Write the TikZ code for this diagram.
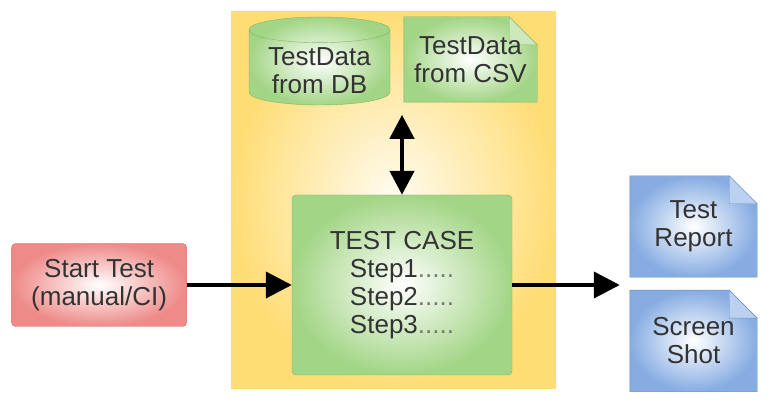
\documentclass[tikz,border=0pt]{standalone}
\usepackage{fontspec}
\setmainfont{Liberation Sans}
\usepackage{xcolor}
\usetikzlibrary{arrows.meta,shapes.geometric,positioning,backgrounds}

\definecolor{greenfill}{HTML}{A3D586}
\definecolor{greenline}{HTML}{82B366}
\definecolor{redfill}{HTML}{EE8A88}
\definecolor{redline}{HTML}{D26A67}
\definecolor{bluefill}{HTML}{86ACE2}
\definecolor{blueline}{HTML}{6C8EBF}
\definecolor{panelfill}{HTML}{FFD966}
\definecolor{textgray}{HTML}{333333}
\definecolor{dotgray}{HTML}{777777}

\begin{document}
\begin{tikzpicture}[
    x=1pt, y=1pt,
    font=\fontsize{26}{28}\selectfont, text=textgray,
    panel/.style={rectangle, inner color=panelfill!8, outer color=panelfill!90!white, minimum width=325pt, minimum height=377pt},
    block/.style={rectangle, draw=greenline, inner color=white, outer color=greenfill,
                  rounded corners=4pt, align=center, inner sep=0pt},
    startblock/.style={block, draw=redline, outer color=redfill},
    dbblock/.style={cylinder, shape border rotate=90, aspect=0.25, draw=greenline,
                  inner color=white, outer color=greenfill, minimum width=141pt,
                  minimum height=88pt, inner sep=0pt},
    noteblock/.style={rectangle, align=center, inner sep=0pt},
    line/.style={draw, line width=4pt, -{Triangle[length=26pt,width=26pt]}},
    dline/.style={draw, line width=4.5pt, {Triangle[length=24pt,width=24pt]}-{Triangle[length=24pt,width=24pt]}}
]
\useasboundingbox (0,0) rectangle (775,406);

% Container
\begin{scope}[on background layer]
\node [panel] (panel) at (393.5,205.5) {};
\end{scope}

% Main blocks
\node [block, minimum width=220pt, minimum height=180pt] (test) at (402,121)
      {TEST CASE\\Step1{\color{dotgray}.....}\\Step2{\color{dotgray}.....}\\Step3{\color{dotgray}.....}};
\node [startblock, minimum width=175pt, minimum height=83pt, left=105pt of test] (start)
      {Start Test\\(manual/CI)};

% Test data
\node [dbblock] (db) at (319.5,338.5)
      {\raisebox{-13pt}[0pt][0pt]{\begin{tabular}{@{}c@{}}TestData\\from DB\end{tabular}}};
\node [noteblock, minimum width=133pt, minimum height=85pt] (csv) at (470.5,346.5) {TestData\\from CSV};

% Results
\node [noteblock, minimum width=127pt, minimum height=101pt] (report) at (693.5,179.5) {Test\\Report};
\node [noteblock, minimum width=127pt, minimum height=101pt, below=13pt of report] (shot) {Screen\\Shot};

% Note outlines with folded corner
\begin{scope}[on background layer]
\foreach \n/\fc/\lc in {csv/greenfill/greenline, report/bluefill/blueline, shot/bluefill/blueline} {
  \shade [inner color=white, outer color=\fc, draw=\lc]
    (\n.south west) -- (\n.north west) -- ([xshift=-28pt]\n.north east)
    -- ([yshift=-28pt]\n.north east) -- (\n.south east) -- cycle;
  \fill [\fc!55!white, draw=\lc] ([xshift=-28pt]\n.north east) -- ([xshift=-28pt,yshift=-28pt]\n.north east)
    -- ([yshift=-28pt]\n.north east) -- cycle;
}
\end{scope}

% Connectors
\coordinate (datalink) at ([yshift=80pt]test.north);
\coordinate (outpt) at ([xshift=-10pt]report.south west);
\draw [line] (start) -- (test);
\draw [line] (test.east) -- (test.east -| outpt);
\draw [dline] (datalink) -- (test.north);

\end{tikzpicture}
\end{document}
